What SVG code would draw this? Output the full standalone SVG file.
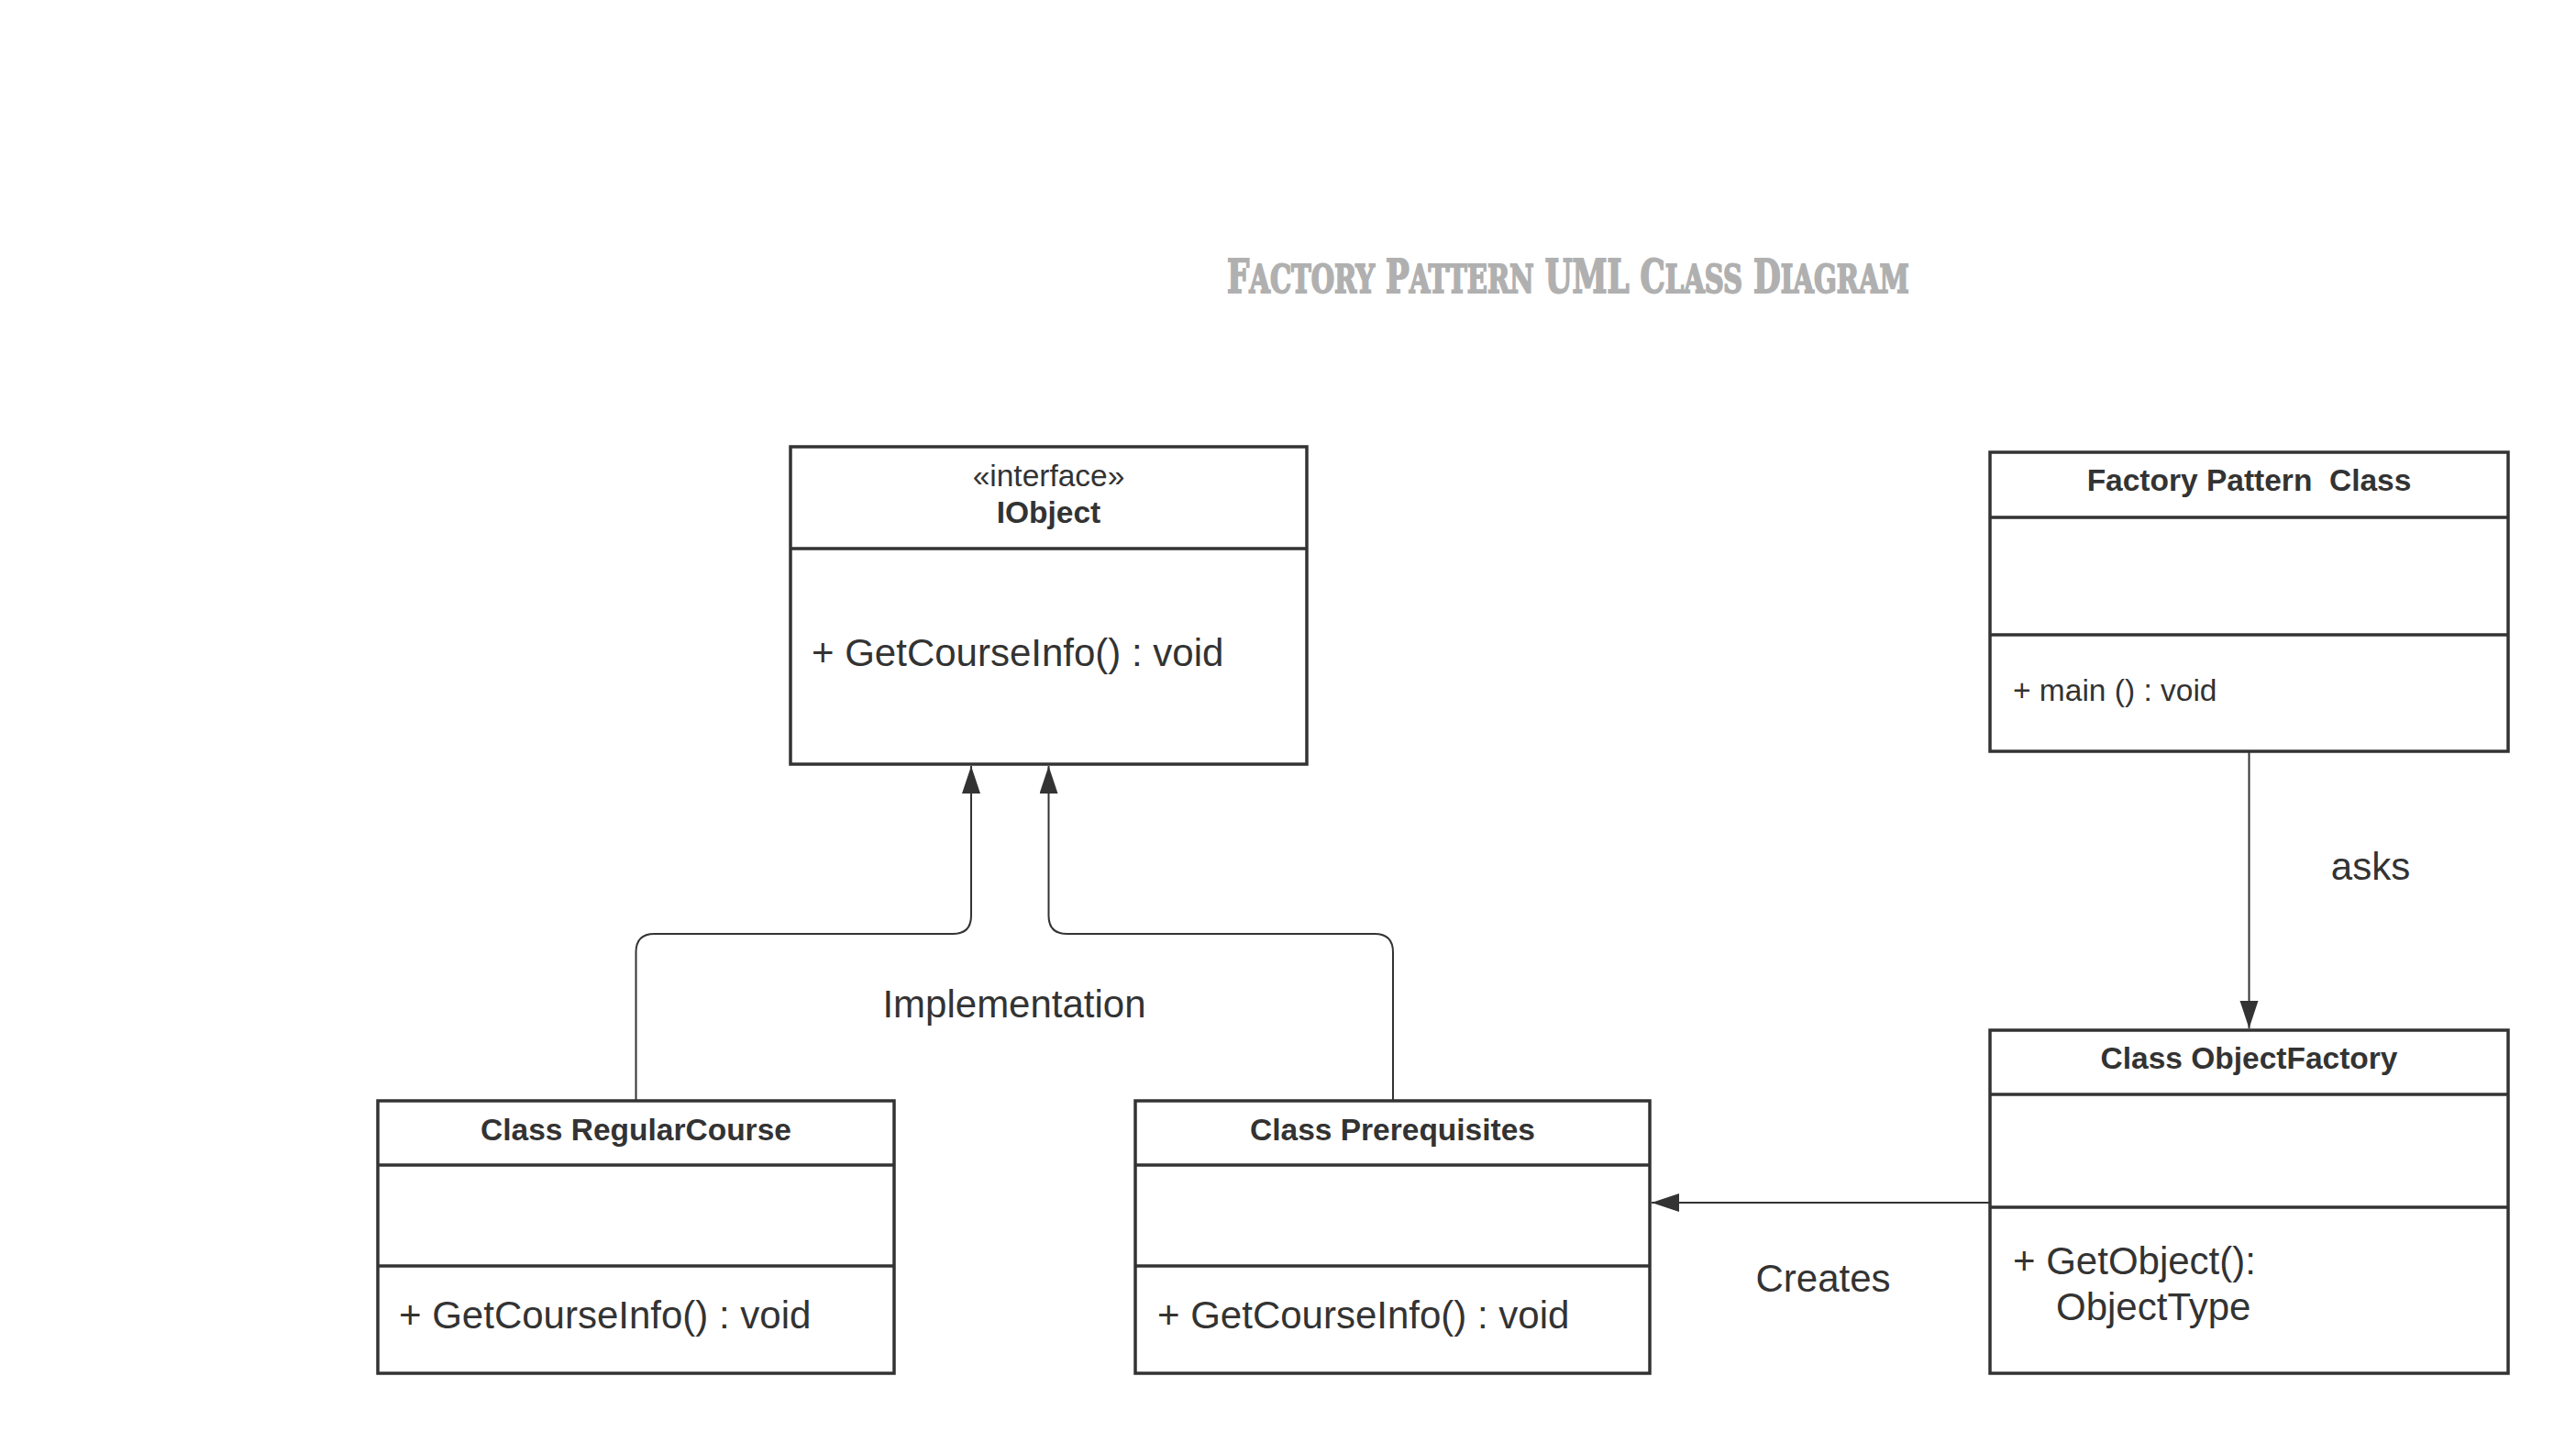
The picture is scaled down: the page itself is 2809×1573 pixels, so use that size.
<svg xmlns="http://www.w3.org/2000/svg" width="2809" height="1573" viewBox="0 0 2809 1573">
<style>
.box{fill:#fff;stroke:#333;stroke-width:3.5}
.div{stroke:#333;stroke-width:3.5}
.con{fill:none;stroke:#333;stroke-width:2}
.t{font-family:"Liberation Sans",Arial,sans-serif;fill:#333;white-space:pre}
.h{font-size:33.5px;font-weight:bold;text-anchor:middle}
.s{font-size:33.5px}
.m{font-size:42px}
.c{text-anchor:middle}
.title{font-family:"DejaVu Serif Condensed","DejaVu Serif",serif;font-weight:bold;font-size:50px;fill:#b0b0b0;stroke:#b0b0b0;stroke-width:1.8}
.sc{font-size:42.5px;text-transform:uppercase}
</style>
<defs>
<marker id="arr" markerUnits="userSpaceOnUse" markerWidth="32" markerHeight="22" refX="30" refY="10" orient="auto">
<path d="M0,0 L30,10 L0,20 Z" fill="#333"/>
</marker>
</defs>
<rect width="2809" height="1573" fill="#fff"/>
<g id="title" transform="translate(1338,319) scale(0.7615,1)">
<text class="title" x="0" y="0">F<tspan class="sc">actory</tspan> P<tspan class="sc">attern</tspan> UML C<tspan class="sc">lass</tspan> D<tspan class="sc">iagram</tspan></text>
</g>

<g id="connectors">
<path class="con" d="M693.5,1199 V1038 Q693.5,1018 713.5,1018 H1039 Q1059,1018 1059,998 V835" marker-end="url(#arr)"/>
<path class="con" d="M1519,1199 V1038 Q1519,1018 1499,1018 H1163.5 Q1143.5,1018 1143.5,998 V835" marker-end="url(#arr)"/>
<path class="con" d="M2452.5,819 V1121" marker-end="url(#arr)"/>
<path class="con" d="M2170,1311 H1801" marker-end="url(#arr)"/>
<text class="t m c" x="1106" y="1109">Implementation</text>
<text class="t m c" x="2585" y="959">asks</text>
<text class="t m c" x="1988" y="1408">Creates</text>
</g>

<g id="iobject">
<rect class="box" x="862" y="487" width="563" height="346"/>
<line class="div" x1="862" y1="598" x2="1425" y2="598"/>
<text class="t s c" x="1143.5" y="530">«interface»</text>
<text class="t h" x="1143.5" y="570">IObject</text>
<text class="t m" x="885" y="726">+ GetCourseInfo() : void</text>
</g>

<g id="factory-pattern-class">
<rect class="box" x="2170" y="493" width="565" height="326"/>
<line class="div" x1="2170" y1="564" x2="2735" y2="564"/>
<line class="div" x1="2170" y1="692" x2="2735" y2="692"/>
<text class="t h" x="2452.5" y="535">Factory Pattern  Class</text>
<text class="t s" x="2195" y="764">+ main () : void</text>
</g>

<g id="object-factory">
<rect class="box" x="2170" y="1123" width="565" height="374"/>
<line class="div" x1="2170" y1="1193" x2="2735" y2="1193"/>
<line class="div" x1="2170" y1="1316" x2="2735" y2="1316"/>
<text class="t h" x="2452.5" y="1165">Class ObjectFactory</text>
<text class="t m" x="2195" y="1389">+ GetObject():</text>
<text class="t m" x="2242" y="1439">ObjectType</text>
</g>

<g id="regular-course">
<rect class="box" x="412" y="1200" width="563" height="297"/>
<line class="div" x1="412" y1="1270" x2="975" y2="1270"/>
<line class="div" x1="412" y1="1380" x2="975" y2="1380"/>
<text class="t h" x="693.5" y="1243">Class RegularCourse</text>
<text class="t m" x="435" y="1448">+ GetCourseInfo() : void</text>
</g>

<g id="prerequisites">
<rect class="box" x="1238" y="1200" width="561" height="297"/>
<line class="div" x1="1238" y1="1270" x2="1799" y2="1270"/>
<line class="div" x1="1238" y1="1380" x2="1799" y2="1380"/>
<text class="t h" x="1518.5" y="1243">Class Prerequisites</text>
<text class="t m" x="1262" y="1448">+ GetCourseInfo() : void</text>
</g>
</svg>
